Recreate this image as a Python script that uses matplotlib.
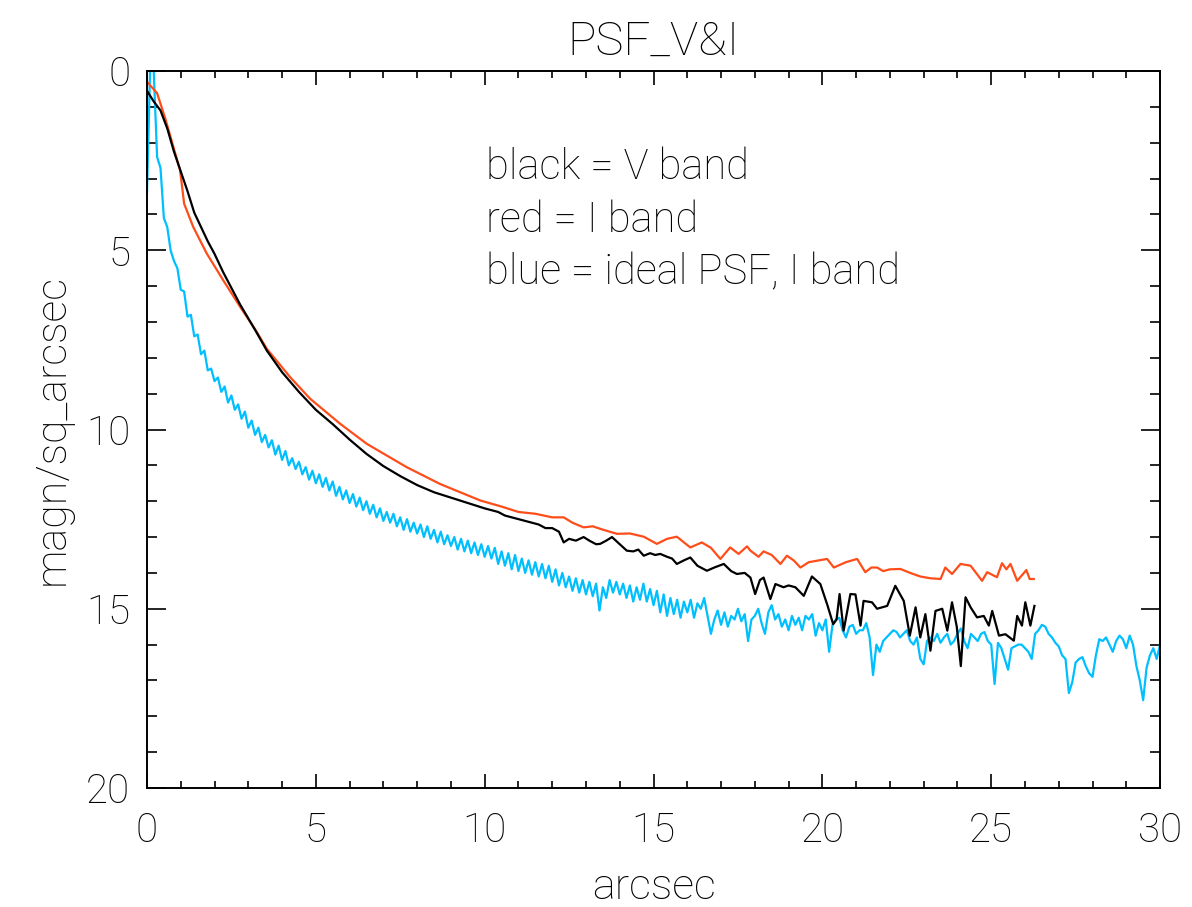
import numpy as np
import matplotlib
matplotlib.use("Agg")
from matplotlib import pyplot as plt

# ideal PSF, I band (blue) sampled every 0.1 arcsec from 0 to 30
blue_x0, blue_dx = 0.0, 0.1
blue_y = [
    3.4, -0.3, 0.0, 2.4, 2.7, 4.1, 4.35, 5.0, 5.3, 5.5,
    6.1, 6.15, 6.85, 6.8, 7.4, 7.35, 7.9, 7.8, 8.35, 8.3,
    8.65, 8.55, 8.95, 8.8, 9.25, 9.05, 9.45, 9.3, 9.7, 9.5,
    9.95, 9.75, 10.15, 9.95, 10.35, 10.15, 10.5, 10.3, 10.7, 10.45,
    10.85, 10.6, 11.0, 10.8, 11.1, 10.9, 11.25, 11.05, 11.4, 11.15,
    11.5, 11.25, 11.6, 11.35, 11.7, 11.45, 11.85, 11.6, 11.95, 11.7,
    12.05, 11.8, 12.15, 11.9, 12.25, 12.0, 12.35, 12.1, 12.45, 12.2,
    12.55, 12.3, 12.6, 12.35, 12.7, 12.45, 12.8, 12.5, 12.85, 12.6,
    12.9, 12.65, 13.0, 12.7, 13.05, 12.8, 13.15, 12.85, 13.2, 12.95,
    13.25, 13.0, 13.35, 13.05, 13.4, 13.1, 13.45, 13.15, 13.5, 13.2,
    13.55, 13.25, 13.6, 13.3, 13.75, 13.4, 13.8, 13.45, 13.9, 13.5,
    13.95, 13.6, 14.0, 13.65, 14.05, 13.7, 14.1, 13.75, 14.15, 13.8,
    14.25, 13.9, 14.35, 14.0, 14.4, 14.1, 14.5, 14.15, 14.55, 14.2,
    14.6, 14.25, 14.65, 14.3, 15.05, 14.4, 14.7, 14.2, 14.55, 14.25,
    14.6, 14.3, 14.7, 14.35, 14.8, 14.4, 14.75, 14.3, 14.8, 14.45,
    14.9, 14.5, 15.1, 14.6, 15.2, 14.7, 15.15, 14.75, 15.25, 14.8,
    15.1, 14.75, 15.25, 14.85, 15.0, 14.7, 15.2, 15.7, 15.3, 15.05,
    15.45, 15.1, 15.5, 15.2, 15.3, 15.0, 15.35, 15.15, 15.9, 15.3,
    15.2, 15.0, 15.4, 15.7, 15.1, 14.9, 15.3, 15.15, 15.5, 15.3,
    15.6, 15.2, 15.45, 15.25, 15.6, 15.2, 15.3, 15.15, 15.75, 15.4,
    15.6, 15.3, 16.2, 15.45, 15.3, 15.25, 15.6, 15.8, 15.5, 15.45,
    15.7, 15.6, 15.6, 15.4, 15.8, 16.85, 16.0, 16.2, 15.9, 15.8,
    15.7, 15.6, 15.65, 15.8, 15.7, 15.6, 15.9, 16.0, 15.8, 16.4,
    16.55, 15.9, 15.8, 15.9, 15.7, 15.95, 15.8, 15.7, 16.0, 15.9,
    15.7, 15.55, 15.9, 16.1, 15.7, 15.8, 15.9, 15.7, 15.65, 15.9,
    16.0, 17.1, 15.95, 16.1, 16.4, 16.7, 16.1, 16.05, 16.0, 16.0,
    16.1, 16.2, 16.4, 15.7, 15.6, 15.45, 15.5, 15.7, 15.8, 15.95,
    16.05, 16.3, 16.4, 17.35, 17.05, 16.5, 16.4, 16.35, 16.6, 16.8,
    16.9, 16.3, 15.85, 15.9, 15.8, 16.0, 16.2, 15.9, 15.75, 15.85,
    16.1, 15.75, 16.0, 16.6, 17.0, 17.55, 16.65, 16.3, 16.1, 16.4,
    16.0,
]

# V band (black)
black_x = [0.0, 0.2, 0.4, 0.6, 0.8, 1.0, 1.2, 1.4, 1.6, 1.8, 2.0, 2.25, 2.5,
           2.75, 3.0, 3.25, 3.55, 4.0, 4.5, 5.0, 5.5, 6.0, 6.5, 7.0, 7.5, 8.0,
           8.5, 9.0, 9.5, 10.0, 10.2, 10.4, 10.6, 10.8, 11.0, 11.2, 11.4, 11.6,
           11.8, 12.0, 12.2, 12.34, 12.5, 12.7, 12.93, 13.1, 13.3, 13.42, 13.6,
           13.77, 14.0, 14.21, 14.4, 14.55, 14.71, 14.9, 15.05, 15.2, 15.4,
           15.55, 15.69, 15.9, 16.09, 16.3, 16.58, 16.8, 17.08, 17.3, 17.47,
           17.7, 17.87, 18.01, 18.15, 18.26, 18.46, 18.61, 18.85, 19.0, 19.2,
           19.45, 19.69, 19.94, 20.15, 20.32, 20.42, 20.51, 20.63, 20.83, 20.98,
           21.13, 21.22, 21.47, 21.62, 21.92, 22.16, 22.41, 22.59, 22.76, 22.9,
           23.05, 23.2, 23.35, 23.55, 23.7, 23.84, 23.98, 24.1, 24.24, 24.39,
           24.58, 24.78, 24.93, 25.03, 25.23, 25.42, 25.67, 25.77, 25.91, 26.01,
           26.16, 26.28]
black_y = [0.55, 0.85, 1.1, 1.6, 2.25, 2.8, 3.35, 3.95, 4.35, 4.75, 5.1, 5.6,
           6.05, 6.5, 6.9, 7.3, 7.8, 8.4, 8.95, 9.45, 9.85, 10.28, 10.68, 11.02,
           11.3, 11.55, 11.75, 11.9, 12.05, 12.2, 12.25, 12.3, 12.4, 12.45,
           12.5, 12.55, 12.6, 12.65, 12.75, 12.75, 12.85, 13.15, 13.05, 13.1,
           13.0, 13.1, 13.2, 13.19, 13.1, 13.0, 13.2, 13.38, 13.4, 13.35, 13.52,
           13.45, 13.5, 13.47, 13.55, 13.6, 13.75, 13.65, 13.57, 13.8, 13.94,
           13.85, 13.75, 13.95, 14.03, 14.0, 14.13, 14.59, 14.2, 14.13, 14.73,
           14.31, 14.4, 14.35, 14.4, 14.64, 14.1, 14.31, 14.9, 15.43, 15.3,
           14.59, 15.61, 14.59, 14.6, 15.47, 14.78, 14.82, 15.0, 14.92, 14.36,
           14.78, 15.75, 14.96, 15.8, 15.15, 16.17, 15.06, 15.0, 15.61, 14.82,
           15.5, 16.6, 14.68, 14.96, 15.24, 15.2, 15.47, 15.06, 15.75, 15.71,
           15.89, 15.2, 15.47, 14.82, 15.47, 14.92]

# I band (red)
red_x = [0.0, 0.3, 0.55, 0.78, 0.98, 1.05, 1.1, 1.37, 1.77, 2.26, 2.76, 3.2,
         3.55, 4.24, 4.83, 5.72, 6.51, 7.69, 8.68, 9.87, 10.5, 11.0, 11.5,
         12.0, 12.34, 12.6, 12.93, 13.2, 13.42, 13.7, 13.92, 14.3, 14.71,
         15.1, 15.4, 15.69, 16.09, 16.43, 16.7, 16.98, 17.27, 17.52, 17.77,
         17.87, 18.11, 18.26, 18.5, 18.76, 18.95, 19.15, 19.35, 19.6, 19.84,
         20.14, 20.34, 20.7, 21.03, 21.27, 21.45, 21.62, 21.8, 22.0, 22.31,
         22.6, 22.9, 23.2, 23.5, 23.64, 23.84, 24.09, 24.39, 24.73, 24.88,
         25.17, 25.32, 25.45, 25.57, 25.77, 26.04, 26.14, 26.26]
red_y = [0.3, 0.62, 1.35, 2.11, 2.77, 3.3, 3.7, 4.35, 5.09, 5.84, 6.58, 7.2,
         7.75, 8.54, 9.14, 9.84, 10.4, 11.05, 11.52, 11.98, 12.15, 12.3, 12.35,
         12.45, 12.45, 12.6, 12.73, 12.7, 12.77, 12.85, 12.91, 12.9, 12.99,
         13.19, 13.05, 12.99, 13.29, 13.15, 13.3, 13.61, 13.29, 13.47, 13.26,
         13.38, 13.55, 13.4, 13.5, 13.75, 13.52, 13.65, 13.85, 13.7, 13.66,
         13.61, 13.85, 13.7, 13.61, 13.98, 13.85, 13.85, 13.95, 13.9, 13.89,
         14.0, 14.1, 14.15, 14.17, 13.85, 14.03, 13.75, 13.8, 14.22, 13.98,
         14.12, 13.73, 13.9, 13.75, 14.22, 13.92, 14.17, 14.17]

notes = ["black = V band", "red = I band", "blue = ideal PSF, I band"]

plt.rcParams["font.family"] = ["Roboto", "DejaVu Sans"]
plt.rcParams["font.weight"] = "light"
plt.rcParams["font.size"] = 29

fig = plt.figure(figsize=(11.92, 9.07), dpi=100)
ax = fig.add_axes([0.1233, 0.1312, 0.8499, 0.7905])

blue_x = blue_x0 + blue_dx * np.arange(len(blue_y))
ax.plot(blue_x, blue_y, color="#00bfff", lw=1.6)
ax.plot(red_x, red_y, color="#ff4d1a", lw=1.6)
ax.plot(black_x, black_y, color="black", lw=1.6)

ax.set_xlim(0, 30)
ax.set_ylim(20, 0)
ax.set_xticks(range(0, 31, 5))
ax.set_xticks(range(0, 31), minor=True)
ax.set_yticks(range(0, 21, 5))
ax.set_yticks(range(0, 21), minor=True)
ax.tick_params(axis="x", which="major", direction="in", length=10, width=1.2,
               top=True, pad=17)
ax.tick_params(axis="x", which="minor", direction="in", length=5, width=1.2,
               top=True)
ax.tick_params(axis="y", which="major", direction="in", length=14, width=1.2,
               right=True, pad=12)
ax.tick_params(axis="y", which="minor", direction="in", length=7, width=1.2,
               right=True)
for s in ax.spines.values():
    s.set_linewidth(1.4)

ax.set_xlabel("arcsec", labelpad=12, fontsize=31, fontweight="light")
ax.set_ylabel("magn/sq_arcsec", labelpad=10, fontsize=31, fontweight="light")
ax.set_title("PSF_V&I", pad=12, fontsize=34, fontweight="light")

for i, t in enumerate(notes):
    ax.text(10.05, 2.68 + 1.48 * i, t, va="center", ha="left", fontsize=30,
            fontweight="light")

fig.savefig("out.png", dpi=100)
